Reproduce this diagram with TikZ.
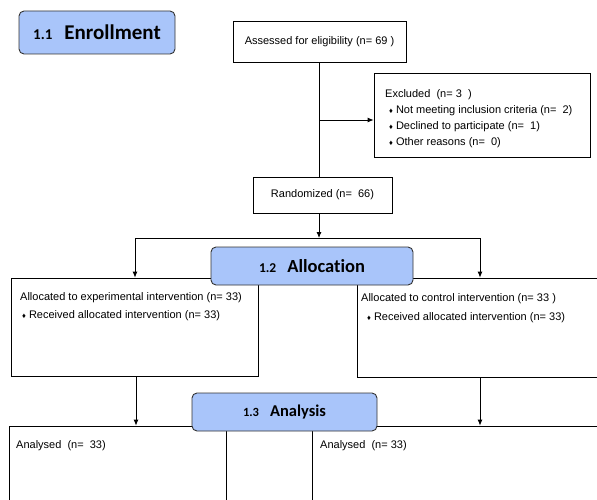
\documentclass[tikz,border=0pt]{standalone}
\usepackage{fontspec}
\setmainfont{Liberation Sans}
\newfontfamily\titlefont[Ligatures={NoCommon,NoRare,NoContextual}]{Carlito}
\usetikzlibrary{arrows.meta}
\definecolor{phaseblue}{RGB}{169,197,250}
\begin{document}
\begin{tikzpicture}[x=1pt,y=-1pt,
  box/.style={draw=black, line width=0.8pt, inner sep=0pt, fill=white, font=\fontsize{11}{12}\selectfont},
  phase/.style={draw=black!80, line width=0.9pt, fill=phaseblue, rounded corners=5pt, inner sep=0pt},
  txt/.style={inner sep=0pt, anchor=west, font=\fontsize{11}{12}\selectfont},
  mtxt/.style={inner sep=0pt, anchor=north west, align=left, font=\fontsize{11}{16}\selectfont},
  arr/.style={-{Latex[length=6pt,width=5pt]}, line width=0.8pt},
  ln/.style={line width=0.8pt}]
\useasboundingbox (0,0) rectangle (597,500);
\clip (0,0) rectangle (597,500);
% boxes
\node[box, minimum width=173pt, minimum height=41pt] (assessed) at (319.5,41.5) {Assessed for eligibility (n= 69 )};
\node[box, minimum width=216pt, minimum height=84pt] (excluded) at (482,115) {};
\node[box, minimum width=139pt, minimum height=36pt] (randomized) at (322.5,195) {Randomized (n=~ 66)};
\node[box, minimum width=247pt, minimum height=98pt] (allocL) at (134.5,327) {};
\node[box, minimum width=248pt, minimum height=99pt] (allocR) at (481,327.5) {};
\node[box, minimum width=217pt, minimum height=94pt] (anaL) at (117.5,473) {};
\node[box, minimum width=298pt, minimum height=94pt] (anaR) at (461,473) {};
% texts
\node[mtxt] (exT) at (385,89) {Excluded~ (n= 3~ )\\
\hspace{4pt}{\fontsize{7.5}{7}\selectfont ♦}\hspace{3pt}Not meeting inclusion criteria (n=~ 2)\\
\hspace{4pt}{\fontsize{7.5}{7}\selectfont ♦}\hspace{3pt}Declined to participate (n=~ 1)\\
\hspace{4pt}{\fontsize{7.5}{7}\selectfont ♦}\hspace{3pt}Other reasons (n=~ 0)};
\node[mtxt, font=\fontsize{11}{18}\selectfont] (alLT) at (20,292) {Allocated to experimental intervention (n= 33)\\
\hspace{2pt}{\fontsize{7.5}{7}\selectfont ♦}\hspace{3pt}Received allocated intervention (n= 33)};
\node[mtxt, font=\fontsize{11}{19}\selectfont] (alRT) at (361,293) {Allocated to control intervention (n= 33 )\\
\hspace{6pt}{\fontsize{7.5}{7}\selectfont ♦}\hspace{3pt}Received allocated intervention (n= 33)};
\node[txt] (anLT) at (16,446) {Analysed~ (n=~ 33)};
\node[txt] (anRT) at (320,446) {Analysed~ (n= 33)};
% connectors
\coordinate (j1) at (319,120);
\coordinate (sp) at (319,238);
\coordinate (spL) at (135,238);
\coordinate (spR) at (480,238);
\draw[ln] (assessed.south -| sp) -- (sp |- randomized.north);
\draw[arr] (j1) -- (j1 -| excluded.west);
\draw[arr] (randomized.south -| sp) -- (sp);
\draw[ln] (spL) -- (spR);
\draw[arr] (spL) -- (spL |- allocL.north);
\draw[arr] (spR) -- (spR |- allocR.north);
\coordinate (dL) at (136,376);
\draw[arr] (dL) -- (dL |- anaL.north);
\draw[arr] (allocR.south -| spR) -- (spR |- anaR.north);
% phase labels
\node[phase, minimum width=156pt, minimum height=43pt, font=\titlefont\bfseries\fontsize{21}{21}\selectfont] (enroll) at (97,32.5) {{\fontsize{15}{15}\selectfont 1.1}\hspace{12pt}Enrollment};
\node[phase, minimum width=202pt, minimum height=38pt, font=\titlefont\bfseries\fontsize{18.5}{18.5}\selectfont] (alloc) at (312,266) {{\fontsize{13.5}{13.5}\selectfont 1.2}\hspace{11pt}Allocation};
\node[phase, minimum width=185pt, minimum height=38pt, font=\titlefont\bfseries\fontsize{16.5}{16.5}\selectfont] (anal) at (284.5,412) {{\fontsize{12.5}{12.5}\selectfont 1.3}\hspace{11pt}Analysis};
\end{tikzpicture}
\end{document}
